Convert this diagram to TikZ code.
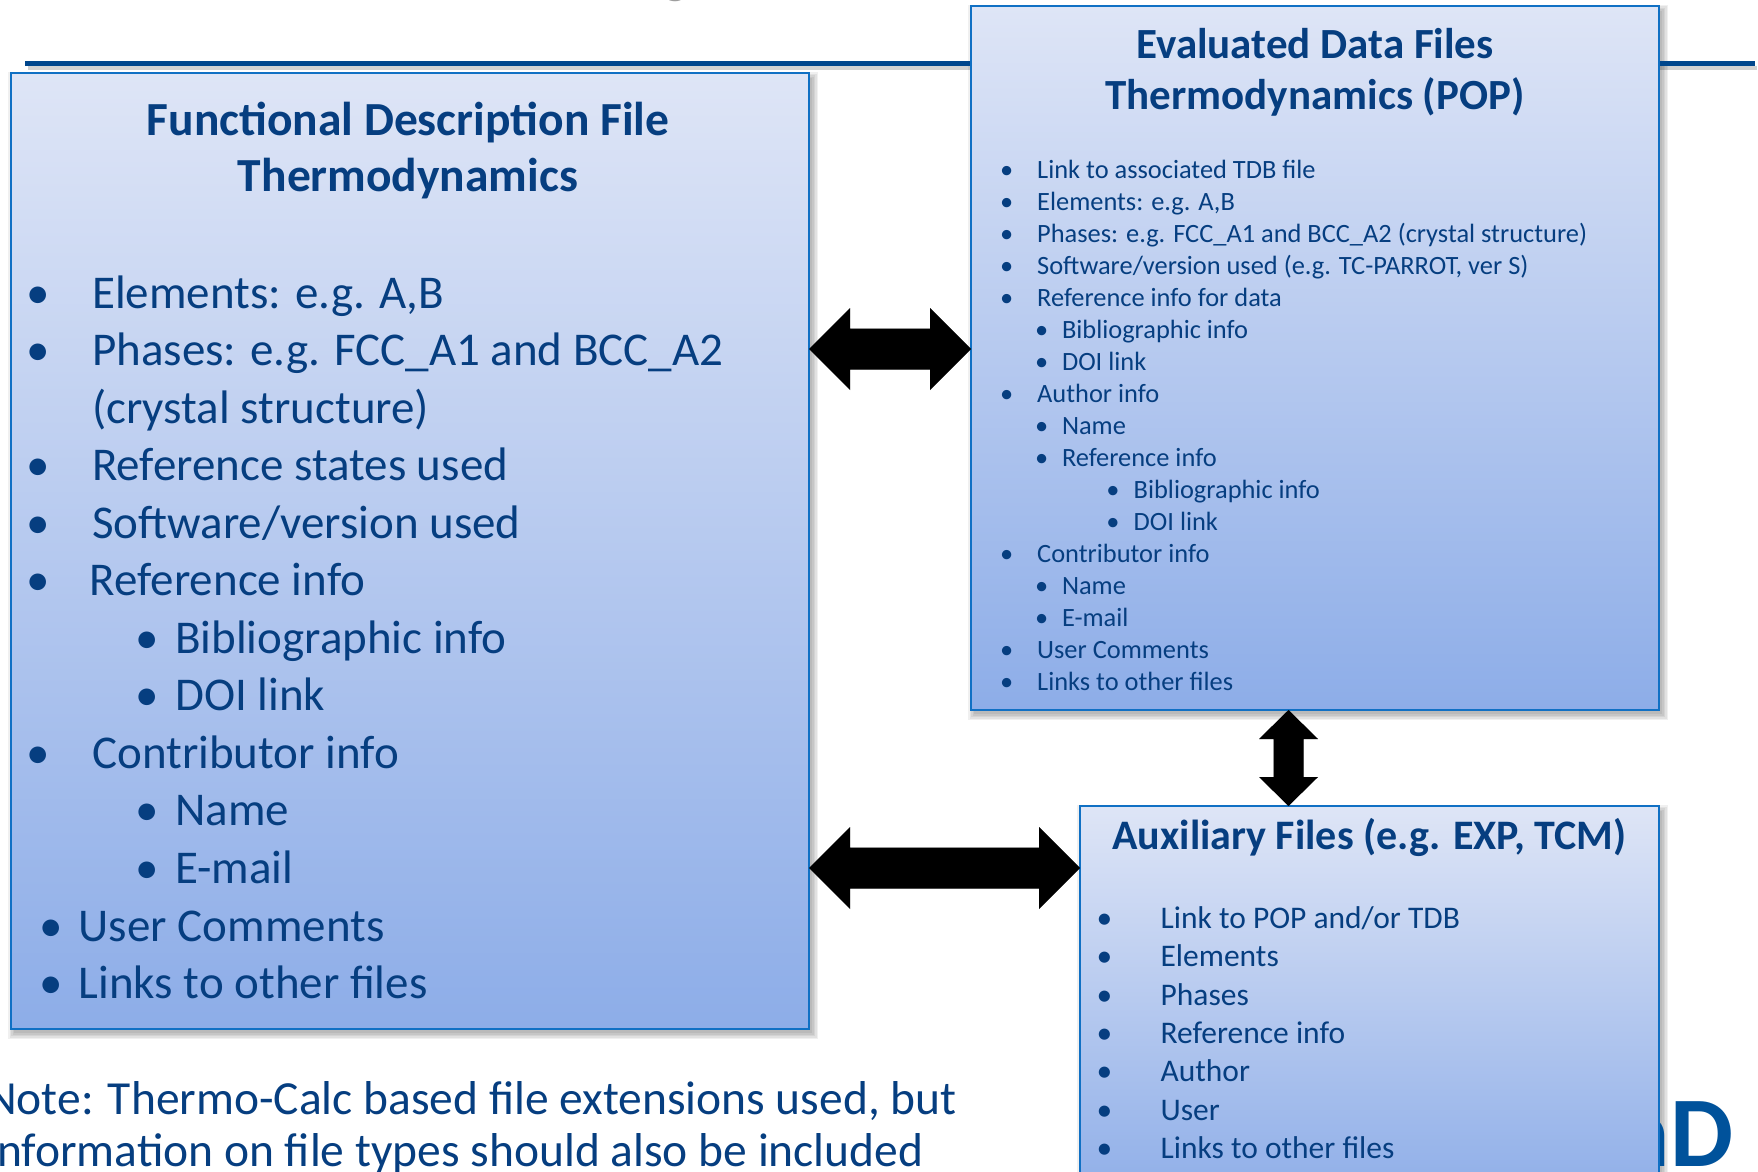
\documentclass[tikz,border=0pt]{standalone}
\usepackage{fontspec}
\setmainfont{Carlito}
\usetikzlibrary{calc}

\definecolor{txtblue}{RGB}{6,62,128}
\definecolor{boxtop}{RGB}{222,229,246}
\definecolor{boxbot}{RGB}{141,173,232}
\definecolor{boxedge}{RGB}{16,112,196}
\definecolor{rulecol}{RGB}{0,70,140}
\definecolor{logocol}{RGB}{0,82,155}

\pgfdeclarelayer{background}
\pgfsetlayers{background,main}

\tikzset{
  panel/.style={draw=boxedge, line width=2.5pt, top color=boxtop, bottom color=boxbot,
                anchor=north west, inner sep=0pt, outer sep=0pt},
  txt/.style={text=txtblue, inner sep=0pt, anchor=base west},
  bul/.style={text=txtblue, inner sep=0pt, anchor=base},
  ttl/.style={text=txtblue, inner sep=0pt, anchor=base, font=\bfseries\fontsize{#1}{#1}\selectfont},
  blockarrow/.style={fill=black},
  arrowshade/.style={fill=black, opacity=0.09},
}

% soft drop shadow behind a rectangular node
\newcommand{\softshadow}[1]{%
  \begin{pgfonlayer}{background}
    \foreach \g in {0,1.5,3,4.5,6}{%
      \fill[black,opacity=0.06] ($(#1.north west)+(3-\g,-5+\g)$) rectangle ($(#1.south east)+(3+\g,-4-\g)$);
    }
  \end{pgfonlayer}}

% horizontal block double arrow between two tips at the same height
\newcommand{\harrow}[3]{%
  \fill[#1] let \p1=(#2), \p2=(#3) in
    (\x1,\y1) -- (\x1+41pt,\y1+41pt) -- (\x1+41pt,\y1+20.5pt) -- (\x2-41pt,\y1+20.5pt)
    -- (\x2-41pt,\y1+41pt) -- (\x2,\y1) -- (\x2-41pt,\y1-41pt) -- (\x2-41pt,\y1-20.5pt)
    -- (\x1+41pt,\y1-20.5pt) -- (\x1+41pt,\y1-41pt) -- cycle;}

% vertical block double arrow between two tips at the same x
\newcommand{\varrow}[3]{%
  \fill[#1] let \p1=(#2), \p2=(#3) in
    (\x1,\y1) -- (\x1+29.5pt,\y1-29pt) -- (\x1+15pt,\y1-29pt) -- (\x1+15pt,\y2+29pt)
    -- (\x1+29.5pt,\y2+29pt) -- (\x1,\y2) -- (\x1-29.5pt,\y2+29pt) -- (\x1-15pt,\y2+29pt)
    -- (\x1-15pt,\y1-29pt) -- (\x1-29.5pt,\y1-29pt) -- cycle;}

\begin{document}
\begin{tikzpicture}[x=1pt,y=1pt]
\useasboundingbox (0,0) rectangle (1758,-1172);
\begin{pgfonlayer}{background}
  \fill[white] (0,0) rectangle (1758,-1172);
\end{pgfonlayer}

% fragment of the slide heading above the rule
\node[text=black!38, inner sep=0pt, anchor=base, font=\fontsize{48}{48}\selectfont] (headfrag) at (676,6) {g};

% header rule
\draw[black, opacity=0.18, line width=4pt] (28,-68) -- (1757,-68);
\draw[rulecol, line width=5pt] (25,-63.5) -- (1755,-63.5);

% logo lettering partly hidden behind the auxiliary panel
\node[text=logocol, inner sep=0pt, anchor=base west, font=\bfseries\fontsize{100}{100}\selectfont] (logo) at (1620.6,-1166) {aD};

% panels
\node[panel, minimum width=798pt, minimum height=956pt] (fdf) at (11,-73) {};
\node[panel, minimum width=688pt, minimum height=704pt] (edf) at (971,-6) {};
\node[panel, minimum width=579pt, minimum height=400pt] (aux) at (1080,-806) {};
\softshadow{fdf}
\softshadow{edf}
\softshadow{aux}

% ---- Functional description file ----
\node[ttl=47.5] (fdft1) at (408,-135) {Functional Description File};
\node[ttl=47.5] (fdft2) at (408,-191) {Thermodynamics};
\foreach \k/\tx/\t in {0/92/{Elements: e.g. A,B}, 1/92/{Phases: e.g. FCC\_A1 and BCC\_A2},
    2/92/{(crystal structure)}, 3/92/{Reference states used}, 4/92/{Software/version used},
    5/89.7/{Reference info}, 6/175/{Bibliographic info}, 7/175/{DOI link},
    8/92/{Contributor info}, 9/175/{Name}, 10/175/{E-mail},
    11/78.5/{User Comments}, 12/78.5/{Links to other files}}{%
  \node[txt, font=\fontsize{47}{57}\selectfont] (fdfi\k) at (\tx,{-308-57.55*\k}) {\t};
}
\foreach \k/\bx in {0/38, 1/38, 3/38, 4/38, 5/38, 6/147, 7/147, 8/38, 9/147, 10/147, 11/51.6, 12/51.6}{%
  \node[bul, font=\fontsize{47}{57}\selectfont] (fdfb\k) at (\bx,{-308-57.55*\k}) {•};
}

% ---- Evaluated data files ----
\node[ttl=43] (edft1) at (1315,-58.6) {Evaluated Data Files};
\node[ttl=43] (edft2) at (1315,-109) {Thermodynamics (POP)};
\foreach \k/\bx/\tx/\t in {0/1006.8/1037/{Link to associated TDB file},
    1/1006.8/1037/{Elements: e.g. A,B},
    2/1006.8/1037/{Phases: e.g. FCC\_A1 and BCC\_A2 (crystal structure)},
    3/1006.8/1037/{Software/version used (e.g. TC-PARROT, ver S)},
    4/1006.8/1037/{Reference info for data},
    5/1041.6/1061.8/{Bibliographic info}, 6/1041.6/1061.8/{DOI link},
    7/1006.8/1037/{Author info},
    8/1041.6/1061.8/{Name}, 9/1041.6/1061.8/{Reference info},
    10/1113/1133.5/{Bibliographic info}, 11/1113/1133.5/{DOI link},
    12/1006.8/1037/{Contributor info},
    13/1041.6/1061.8/{Name}, 14/1041.6/1061.8/{E-mail},
    15/1006.8/1037/{User Comments}, 16/1006.8/1037/{Links to other files}}{%
  \node[bul, font=\fontsize{26.4}{32}\selectfont] (edfb\k) at (\bx,{-178-32.02*\k}) {•};
  \node[txt, font=\fontsize{26.4}{32}\selectfont] (edfi\k) at (\tx,{-178-32.02*\k}) {\t};
}

% ---- Auxiliary files ----
\node[ttl=42] (auxt) at (1369.5,-849) {Auxiliary Files (e.g. EXP, TCM)};
\foreach \k/\t in {0/{Link to POP and/or TDB}, 1/{Elements}, 2/{Phases}, 3/{Reference info},
    4/{Author}, 5/{User}, 6/{Links to other files}}{%
  \node[bul, font=\fontsize{31.5}{38}\selectfont] (auxb\k) at (1104.4,{-928.5-38.3*\k}) {•};
  \node[txt, font=\fontsize{31.5}{38}\selectfont] (auxi\k) at (1160.4,{-928.5-38.3*\k}) {\t};
}

% ---- note ----
\node[txt, font=\fontsize{47.5}{52}\selectfont] (note1) at (-14,-1114) {Note: Thermo-Calc based file extensions used, but};
\node[txt, font=\fontsize{47.5}{52}\selectfont] (note2) at (-14,-1166) {information on file types should also be included};

% ---- connectors ----
\coordinate (a1l) at (fdf.east |- 0,-349);
\coordinate (a1r) at (edf.west |- 0,-349);
\coordinate (a2l) at (fdf.east |- 0,-868);
\coordinate (a2r) at (aux.west |- 0,-868);
\coordinate (a3t) at (edf.south -| 1288.5,0);
\coordinate (a3b) at (aux.north -| 1288.5,0);
\foreach \s in {1,2,3}{%
  \harrow{arrowshade, shift={(\s pt,-\s pt-1pt)}}{a1l}{a1r}
  \harrow{arrowshade, shift={(\s pt,-\s pt-1pt)}}{a2l}{a2r}
  \varrow{arrowshade, shift={(\s pt,-\s pt-1pt)}}{a3t}{a3b}
}
\harrow{blockarrow}{a1l}{a1r}
\harrow{blockarrow}{a2l}{a2r}
\varrow{blockarrow}{a3t}{a3b}
\end{tikzpicture}
\end{document}
